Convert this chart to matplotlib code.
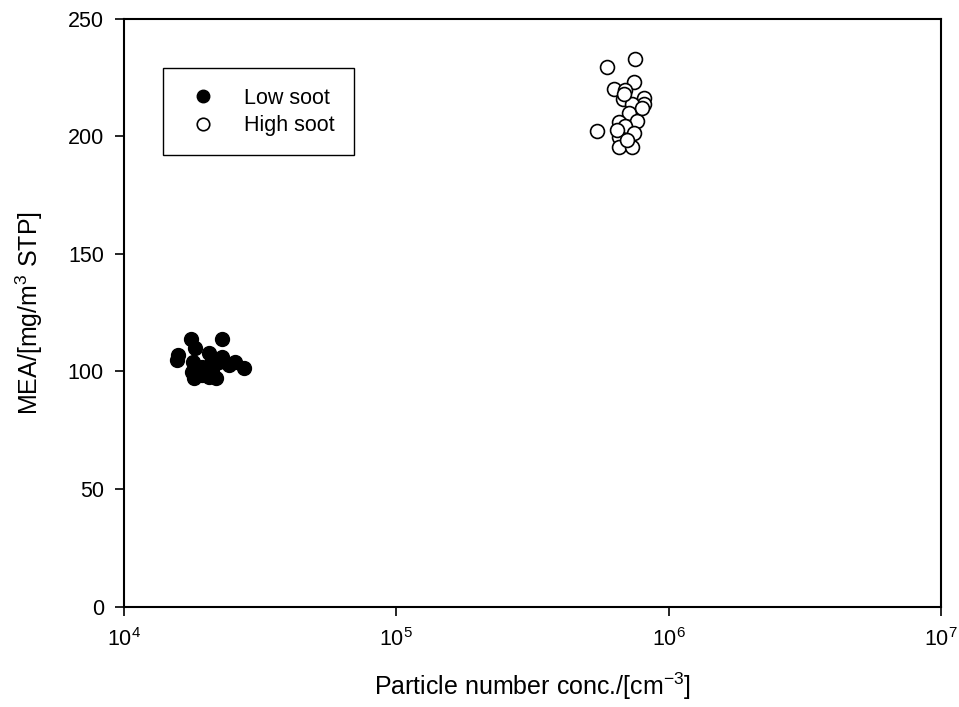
import matplotlib
matplotlib.use("Agg")
import matplotlib.pyplot as plt
from matplotlib.ticker import NullLocator, FixedLocator

plt.rcParams['font.family'] = ['Liberation Sans', 'DejaVu Sans']
plt.rcParams['mathtext.fontset'] = 'custom'
plt.rcParams['mathtext.rm'] = 'Liberation Sans'

# Low soot measurements: particle number concentration [cm^-3] and MEA [mg/m^3 STP]
low_conc = [17570, 22910, 18210, 15820, 20490, 15690, 22910, 17910, 25650, 27510,
            17800, 19360, 21070, 20490, 21680, 18060, 24250, 19360, 22290, 21000]
low_mea = [113.8, 113.8, 110.1, 107.0, 107.7, 104.8, 106.3, 104.1, 104.1, 101.3,
           99.9, 102.0, 100.6, 97.7, 97.1, 97.1, 102.7, 98.6, 104.1, 104.8]

# High soot measurements
high_conc = [754400, 594300, 744400, 628800, 693400, 813700, 680000, 809600, 733700, 713700,
             765200, 655900, 693400, 546500, 744400, 655900, 646600, 655900, 733700, 703500,
             684000, 798000]
high_mea = [232.8, 229.5, 223.2, 220.1, 219.7, 216.5, 215.7, 213.7, 213.7, 210.0,
            206.6, 206.2, 204.2, 202.3, 201.2, 199.8, 202.6, 195.5, 195.3, 198.4,
            218.2, 212.0]

x_ticks = [1e4, 1e5, 1e6, 1e7]
x_tick_labels = ['$10^4$', '$10^5$', '$10^6$', '$10^7$']
y_ticks = [0, 50, 100, 150, 200, 250]

fig = plt.figure(figsize=(9.59, 7.07), dpi=100)
ax = fig.add_axes([0.1293, 0.142, 0.8519, 0.8315])

ax.plot(low_conc, low_mea, linestyle='none', marker='o', markersize=10,
        markerfacecolor='black', markeredgecolor='black', markeredgewidth=1.0,
        label='Low soot')
ax.plot(high_conc, high_mea, linestyle='none', marker='o', markersize=10,
        markerfacecolor='white', markeredgecolor='black', markeredgewidth=1.2,
        label='High soot')

ax.set_xscale('log')
ax.set_xlim(1e4, 1e7)
ax.set_ylim(0, 250)
ax.xaxis.set_major_locator(FixedLocator(x_ticks))
ax.set_xticklabels(x_tick_labels)
ax.xaxis.set_minor_locator(NullLocator())
ax.set_yticks(y_ticks)

for s in ax.spines.values():
    s.set_linewidth(1.5)
ax.tick_params(axis='both', which='major', direction='out', length=6.5, width=1.2,
               labelsize=15.5, top=False, right=False)
ax.tick_params(axis='y', pad=8)
ax.tick_params(axis='x', pad=9)

ax.set_xlabel('Particle number conc./[cm$^{-3}$]', fontsize=18, labelpad=14)
ax.set_ylabel('MEA/[mg/m$^{3}$ STP]', fontsize=18, labelpad=16)

leg = ax.legend(loc='upper left', bbox_to_anchor=(0.0477, 0.9158), fontsize=15.5,
                frameon=True, fancybox=False, edgecolor='black', framealpha=1,
                markerscale=0.9, handletextpad=0.95, borderpad=0.9, labelspacing=0.3,
                handlelength=1.9, borderaxespad=0)
leg.get_frame().set_linewidth(1.0)

fig.savefig('out.png', dpi=100)
